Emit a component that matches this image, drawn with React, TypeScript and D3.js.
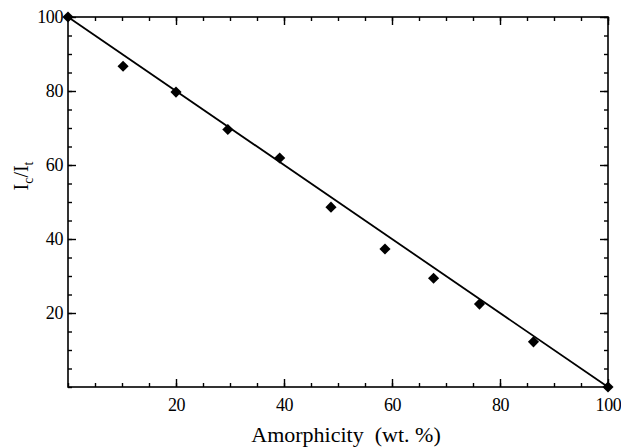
import React, { useEffect, useRef } from 'react';
import * as d3 from 'd3';

const amorphicity = [0, 10.2, 20, 29.6, 39.2, 48.7, 58.7, 67.7, 76.2, 86.2, 100];
const intensityRatio = [100, 86.7, 79.7, 69.6, 61.9, 48.6, 37.3, 29.4, 22.4, 12.2, 0];

// straight fit line
const fitX = [0, 100];
const fitY = [100, 0];

const majorTicks = [20, 40, 60, 80, 100];
const minorTicks = d3.range(0, 101, 5);

const App = () => {
  const svgRef = useRef<SVGSVGElement | null>(null);

  useEffect(() => {
    const svg = d3.select(svgRef.current);
    svg.selectAll('*').remove();

    const margin = { top: 17, right: 13, bottom: 60, left: 68 };
    const W = 621, H = 447;
    const width = W - margin.left - margin.right;
    const height = H - margin.top - margin.bottom;

    const g = svg.append('g').attr('transform', `translate(${margin.left},${margin.top})`);

    const x = d3.scaleLinear().domain([0, 100]).range([0, width]);
    const y = d3.scaleLinear().domain([0, 100]).range([height, 0]);

    const font = "'Liberation Serif', 'Times New Roman', serif";

    // ticks on all four sides, pointing inward
    const addAxis = (axis: any, transform: string, showLabels: boolean) => {
      const a = g.append('g').attr('transform', transform).call(axis);
      a.select('.domain').remove();
      a.selectAll('line').attr('stroke', '#000').attr('stroke-width', 1.4);
      if (!showLabels) a.selectAll('text').remove();
      return a;
    };

    addAxis(d3.axisBottom(x).tickValues(minorTicks).tickSize(-4).tickFormat(() => ''), `translate(0,${height})`, false);
    addAxis(d3.axisTop(x).tickValues(minorTicks).tickSize(-4).tickFormat(() => ''), 'translate(0,0)', false);
    addAxis(d3.axisLeft(y).tickValues(minorTicks).tickSize(-4).tickFormat(() => ''), 'translate(0,0)', false);
    addAxis(d3.axisRight(y).tickValues(minorTicks).tickSize(-4).tickFormat(() => ''), `translate(${width},0)`, false);

    const xAx = addAxis(d3.axisBottom(x).tickValues(majorTicks).tickSize(-8).tickPadding(11).tickFormat(d3.format('d')), `translate(0,${height})`, true);
    addAxis(d3.axisTop(x).tickValues(majorTicks).tickSize(-8).tickFormat(() => ''), 'translate(0,0)', false);
    const yAx = addAxis(d3.axisLeft(y).tickValues(majorTicks).tickSize(-8).tickPadding(5).tickFormat(d3.format('d')), 'translate(0,0)', true);
    addAxis(d3.axisRight(y).tickValues(majorTicks).tickSize(-8).tickFormat(() => ''), `translate(${width},0)`, false);

    [xAx, yAx].forEach(a => {
      a.selectAll('text')
        .attr('fill', '#000')
        .style('font-family', font)
        .style('font-size', '18px')
        .style('letter-spacing', '-0.4px');
    });

    // frame
    g.append('rect')
      .attr('width', width)
      .attr('height', height)
      .attr('fill', 'none')
      .attr('stroke', '#000')
      .attr('stroke-width', 1.6);

    // fit line
    const line = d3.line<number>().x((d, i) => x(fitX[i])).y((d, i) => y(fitY[i]));
    g.append('path')
      .datum(fitX)
      .attr('d', line)
      .attr('fill', 'none')
      .attr('stroke', '#000')
      .attr('stroke-width', 1.8);

    // diamonds
    const diamond = d3.symbol().type(d3.symbolSquare).size(62);
    g.selectAll('path.pt')
      .data(amorphicity)
      .enter().append('path')
      .attr('class', 'pt')
      .attr('d', diamond)
      .attr('transform', (d, i) => `translate(${x(d)},${y(intensityRatio[i])}) rotate(45)`)
      .attr('fill', '#000');

    // x title
    svg.append('text')
      .attr('x', 346)
      .attr('y', 442)
      .attr('text-anchor', 'middle')
      .style('font-family', font)
      .style('font-size', '22px')
      .attr('fill', '#000')
      .text('Amorphicity\u00A0 (wt. %)');

    // y title I_c/I_t
    const yt = svg.append('text')
      .attr('transform', 'translate(28,176) rotate(-90)')
      .attr('text-anchor', 'middle')
      .style('font-family', font)
      .style('font-size', '20px')
      .attr('fill', '#000');
    yt.append('tspan').text('I');
    yt.append('tspan').attr('dy', 5).style('font-size', '14px').text('c');
    yt.append('tspan').attr('dy', -5).text('/I');
    yt.append('tspan').attr('dy', 5).style('font-size', '14px').text('t');
  }, []);

  return (
    <svg
      ref={svgRef}
      width={621}
      height={447}
      style={{ position: 'absolute', left: 0, top: 0, background: '#fff' }}
    />
  );
};

export default App;
